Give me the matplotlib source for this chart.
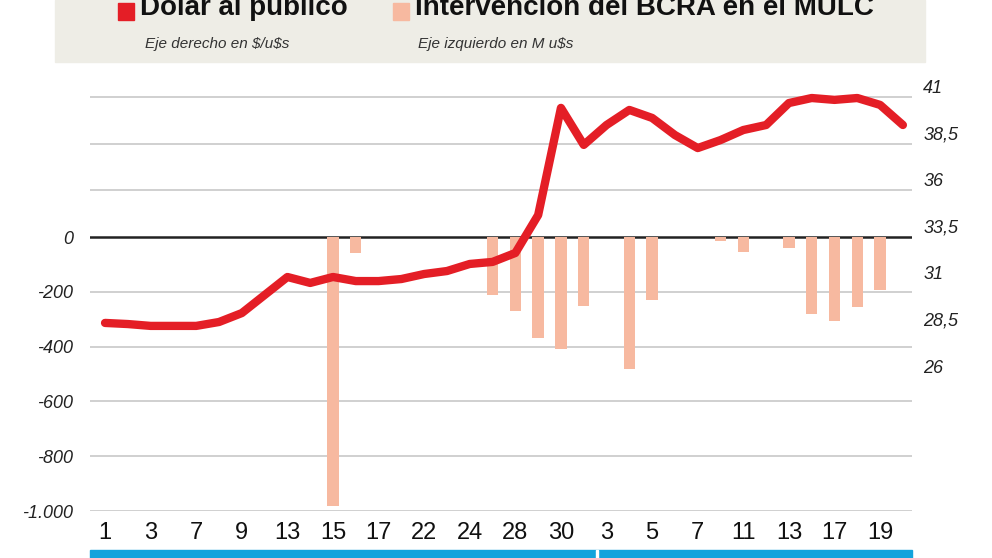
import matplotlib.pyplot as plt
from matplotlib.patches import Rectangle

# day labels (every second point)
day_labels = ['1', '3', '7', '9', '13', '15', '17', '22', '24', '28', '30',
              '3', '5', '7', '11', '13', '17', '19']

# dolar al publico ($/u$s), right axis
dolar = [28.88, 28.82, 28.72, 28.72, 28.72, 28.93, 29.41, 30.38, 31.35, 31.03,
         31.35, 31.13, 31.13, 31.24, 31.51, 31.67, 32.05, 32.16, 32.64, 34.68,
         40.44, 38.45, 39.52, 40.33, 39.90, 38.98, 38.28, 38.71, 39.25, 39.52,
         40.70, 40.97, 40.87, 40.97, 40.60, 39.52]

# intervencion BCRA (M u$s), left axis: index -> value
bcra_idx = [10, 11, 17, 18, 19, 20, 21, 23, 24, 27, 28, 30, 31, 32, 33, 34]
bcra_val = [-980, -60, -210, -270, -370, -410, -250, -480, -230, -15, -55,
            -40, -280, -305, -255, -195]

left_ticks = [0, -200, -400, -600, -800, -1000]
left_labels = ['0', '-200', '-400', '-600', '-800', '-1.000']
right_ticks = [41, 38.5, 36, 33.5, 31, 28.5, 26]
right_labels = ['41', '38,5', '36', '33,5', '31', '28,5', '26']

plt.rcParams['text.usetex'] = False
plt.rcParams['font.family'] = ['Liberation Sans', 'DejaVu Sans']
fig = plt.figure(figsize=(9.92, 5.58), dpi=100)

ax = fig.add_axes([90/992, 1-511/558, 822/992, 426/558])
ax.set_xlim(-0.66, 35.4)
ax.set_ylim(-1000, 555)
ax2 = ax.twinx()
ax2.set_ylim(18.77, 41.67)

# gridlines
for t in left_ticks[1:]:
    ax.axhline(t, color='#c8c8c8', lw=1.2, zorder=0)
for t in [36, 38.5, 41]:
    ax2.axhline(t, color='#c8c8c8', lw=1.2, zorder=0)
ax.axhline(0, color='#222222', lw=1.8, zorder=1)

ax.bar(bcra_idx, bcra_val, width=0.5, color='#f7b9a0', zorder=2)
ax2.plot(range(len(dolar)), dolar, color='#e41e26', lw=6,
         solid_capstyle='round', solid_joinstyle='round', zorder=3)

for a in (ax, ax2):
    for s in a.spines.values():
        s.set_visible(False)
    a.tick_params(length=0)

ax.set_yticks(left_ticks)
ax.set_yticklabels(left_labels, fontsize=13, style='italic', color='#222222')
ax.tick_params(axis='y', pad=12)
ax2.set_yticks(right_ticks)
ax2.set_yticklabels(right_labels, fontsize=13, style='italic', color='#222222',
                    va='bottom')
ax2.tick_params(axis='y', pad=8)
ax.set_xticks(range(0, 36, 2))
ax.set_xticklabels(day_labels, fontsize=17, color='#111111')
ax.tick_params(axis='x', pad=8)

# legend box
fig.patches.append(Rectangle((55/992, 1-62/558), 870/992, 62/558,
                             transform=fig.transFigure, color='#eeede6', zorder=0))
fig.patches.append(Rectangle((118/992, 1-20/558), 16/992, 17/558,
                             transform=fig.transFigure, color='#e41e26', zorder=1))
fig.patches.append(Rectangle((393/992, 1-20/558), 16/992, 17/558,
                             transform=fig.transFigure, color='#f7b9a0', zorder=1))
fig.text(140/992, 1-21/558, 'Dolar al publico', fontsize=20, weight='bold',
         color='#111111', va='bottom')
fig.text(415/992, 1-21/558, 'Intervencion del BCRA en el MULC', fontsize=20,
         weight='bold', color='#111111', va='bottom')
fig.text(145/992, 1-44/558, r'Eje derecho en \$/u\$s', fontsize=11, style='italic',
         color='#333333', va='center')
fig.text(418/992, 1-44/558, r'Eje izquierdo en M u\$s', fontsize=11, style='italic',
         color='#333333', va='center')

# blue band at bottom
fig.patches.append(Rectangle((90/992, 0), 822/992, 8/558,
                             transform=fig.transFigure, color='#13a3dc'))
fig.patches.append(Rectangle((596/992, 0), 2/992, 8/558,
                             transform=fig.transFigure, color='white'))

fig.savefig('out.png', dpi=100)
